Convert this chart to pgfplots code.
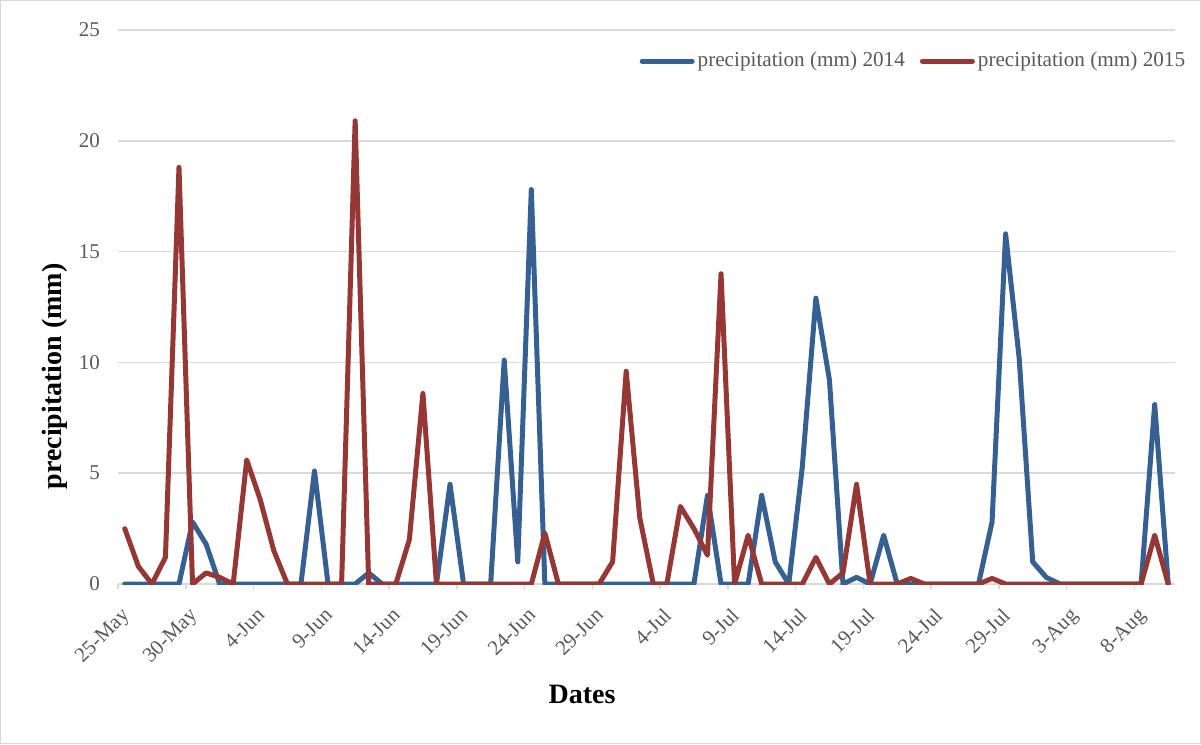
\documentclass[border=0pt]{standalone}
\usepackage{fontspec}
\setmainfont{Liberation Serif}
\usepackage{pgfplots}
\pgfplotsset{compat=1.18}
\usepackage{pgfplotstable}
\definecolor{s14}{HTML}{376092}
\definecolor{s15}{HTML}{953735}
\definecolor{gridc}{HTML}{D9D9D9}
\definecolor{labc}{HTML}{595959}
\pgfplotstableread{
i b r
0 0 2.5
1 0 0.8
2 0 0
3 0 1.2
4 0 18.8
5 2.8 0
6 1.8 0.5
7 0 0.3
8 0 0
9 0 5.6
10 0 3.8
11 0 1.5
12 0 0
13 0 0
14 5.1 0
15 0 0
16 0 0
17 0 20.9
18 0.5 0
19 0 0
20 0 0
21 0 2.0
22 0 8.6
23 0 0
24 4.5 0
25 0 0
26 0 0
27 0 0
28 10.1 0
29 1.0 0
30 17.8 0
31 0 2.3
32 0 0
33 0 0
34 0 0
35 0 0
36 0 1.0
37 0 9.6
38 0 3.0
39 0 0
40 0 0
41 0 3.5
42 0 2.5
43 4.0 1.3
44 0 14.0
45 0 0
46 0 2.2
47 4.0 0
48 1.0 0
49 0 0
50 5.3 0
51 12.9 1.2
52 9.2 0
53 0 0.5
54 0.3 4.5
55 0 0
56 2.2 0
57 0 0
58 0 0.25
59 0 0
60 0 0
61 0 0
62 0 0
63 0 0
64 2.8 0.25
65 15.8 0
66 10.2 0
67 1.0 0
68 0.3 0
69 0 0
70 0 0
71 0 0
72 0 0
73 0 0
74 0 0
75 0 0
76 8.1 2.2
77 0 0
}\data
\begin{document}
\begin{tikzpicture}
\begin{axis}[
  scale only axis, width=528.5pt, height=277pt,
  xmin=-0.5, xmax=77.5, ymin=0, ymax=25,
  ytick={0,5,...,25},
  xtick={0,5,...,75},
  xticklabels={25-May,30-May,4-Jun,9-Jun,14-Jun,19-Jun,24-Jun,29-Jun,4-Jul,9-Jul,14-Jul,19-Jul,24-Jul,29-Jul,3-Aug,8-Aug},
  major tick length=0pt,
  tick pos=left,
  axis x line*=bottom, axis y line*=left,
  x axis line style={draw=gridc, line width=0.75pt, -},
  y axis line style={draw=none},
  ymajorgrids, grid style={gridc, line width=0.75pt},
  /pgf/number format/assume math mode=true,
  tick label style={font=\fontsize{10.5}{12}\selectfont, text=labc},
  yticklabel style={xshift=-5.5pt},
  xticklabel style={xshift=-2.3pt, yshift=-6.3pt, rotate=45, anchor=north east},
  extra x ticks={-0.5,4.5,...,74.5},
  extra x tick labels={},
  extra x tick style={major tick length=2.5pt, tick align=outside, tick style={gridc, line width=0.75pt}, xmajorgrids=false},
  every axis x label/.style={at={(axis description cs:0.439,-0.2)}, anchor=center, font=\fontsize{14}{16}\selectfont\bfseries},
  every axis y label/.style={at={(axis description cs:-0.06,0.375)}, rotate=90, anchor=center, font=\fontsize{14}{16}\selectfont\bfseries},
  xlabel={Dates},
  ylabel={precipitation (mm)},
  legend columns=2,
  legend style={at={(1.0185,0.944)}, anchor=east, draw=none, fill=none, font=\fontsize{10.6}{12}\selectfont, text=labc, nodes={inner sep=1.5pt}, /tikz/every even column/.append style={column sep=6pt}},
  legend image code/.code={\draw[#1] (1.25pt,0pt) -- (26.25pt,0pt);},
]
\addplot[s14, line width=2.5pt, line join=round, line cap=round] table[x=i,y=b]{\data};
\addlegendentry{precipitation (mm) 2014}
\addplot[s15, line width=2.5pt, line join=round, line cap=round] table[x=i,y=r]{\data};
\addlegendentry{precipitation (mm) 2015}
\end{axis}
\draw[gridc, line width=0.5pt] ([xshift=-58.75pt,yshift=-79.75pt]current axis.south west) rectangle ([xshift=12.75pt,yshift=14.75pt]current axis.north east);
\end{tikzpicture}
\end{document}
